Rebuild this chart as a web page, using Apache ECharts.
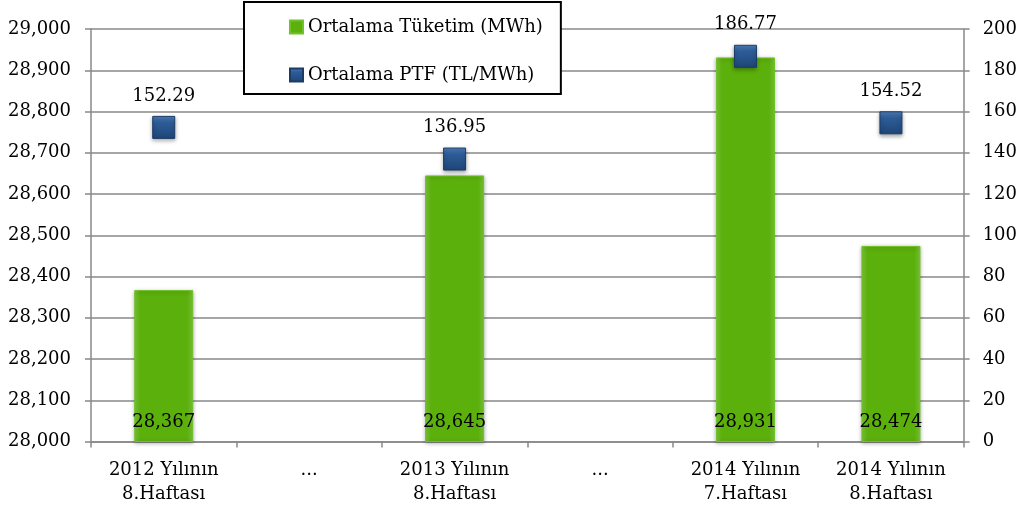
<!DOCTYPE html>
<html><head><meta charset="utf-8">
<script src="https://cdn.jsdelivr.net/npm/echarts@6/dist/echarts.min.js"></script>
<style>html,body{margin:0;padding:0;background:#fff}#c{width:1020px;height:511px}</style>
</head><body><div id="c"></div>
<script>
const categories = ['2012 Yılının\n8.Haftası', '...', '2013 Yılının\n8.Haftası', '...', '2014 Yılının\n7.Haftası', '2014 Yılının\n8.Haftası'];
const consumption = [28367, '-', 28645, '-', 28931, 28474];
const ptf = [152.29, '-', 136.95, '-', 186.77, 154.52];
const leftTicks = {min: 28000, max: 29000, interval: 100};
const rightTicks = {min: 0, max: 200, interval: 20};

const FONT = 'DejaVu Serif';
const FS = 18;
const chart = echarts.init(document.getElementById('c'));
const fmt = v => v.toLocaleString('en-US');
chart.setOption({
  animation: false,
  textStyle: {fontFamily: FONT},
  grid: {left: 91, right: 54, top: 29, bottom: 69.5},
  legend: {
    orient: 'vertical', left: 244, top: 2,
    padding: [16, 18, 10, 45],
    itemGap: 30, itemWidth: 13, itemHeight: 13,
    backgroundColor: '#fff', borderColor: '#000', borderWidth: 2,
    textStyle: {fontFamily: FONT, fontSize: FS, color: '#000'},
    data: [{name: 'Ortalama Tüketim (MWh)', icon: 'rect'}, {name: 'Ortalama PTF (TL/MWh)', icon: 'rect'}]
  },
  xAxis: {
    type: 'category', data: categories, boundaryGap: true,
    axisLine: {lineStyle: {color: '#888', width: 1.5}},
    axisTick: {show: true, length: 6, lineStyle: {color: '#888', width: 1.5}},
    axisLabel: {color: '#000', fontFamily: FONT, fontSize: FS, margin: 17, lineHeight: 24, interval: 0}
  },
  yAxis: [{
    type: 'value', min: leftTicks.min, max: leftTicks.max, interval: leftTicks.interval,
    axisLine: {show: true, lineStyle: {color: '#888', width: 1.5}},
    axisTick: {show: true, length: 6, lineStyle: {color: '#888', width: 1.5}},
    splitLine: {lineStyle: {color: '#888', width: 1.5}},
    axisLabel: {color: '#000', fontFamily: FONT, fontSize: FS, margin: 20, formatter: v => fmt(v)}
  }, {
    type: 'value', min: rightTicks.min, max: rightTicks.max, interval: rightTicks.interval,
    axisLine: {show: true, lineStyle: {color: '#888', width: 1.5}},
    axisTick: {show: true, length: 6, lineStyle: {color: '#888', width: 1.5}},
    splitLine: {show: false},
    axisLabel: {color: '#000', fontFamily: FONT, fontSize: FS, margin: 19}
  }],
  series: [{
    name: 'Ortalama Tüketim (MWh)', type: 'bar', yAxisIndex: 0,
    data: consumption, barWidth: 59,
    itemStyle: {
      color: new echarts.graphic.LinearGradient(0, 0, 1, 0, [
        {offset: 0, color: '#7cc83a'}, {offset: 0.1, color: '#5cb00c'},
        {offset: 0.9, color: '#5cb00c'}, {offset: 1, color: '#7cc83a'}
      ]),
      borderColor: '#6fc22a', borderWidth: 1,
      shadowColor: 'rgba(0,0,0,0.3)', shadowBlur: 4, shadowOffsetY: 1
    },
    label: {show: true, position: 'insideBottom', distance: 11, color: '#000', fontFamily: FONT, fontSize: FS,
      formatter: p => fmt(p.value)}
  }, {
    name: 'Ortalama PTF (TL/MWh)', type: 'scatter', yAxisIndex: 1,
    data: ptf, symbol: 'rect', symbolSize: 22,
    itemStyle: {
      opacity: 1,
      color: new echarts.graphic.LinearGradient(0, 0, 0, 1, [
        {offset: 0, color: '#4f80bd'}, {offset: 0.3, color: '#2d5c98'}, {offset: 1, color: '#1e4677'}
      ]),
      borderColor: '#1c3c66', borderWidth: 1,
      shadowColor: 'rgba(0,0,0,0.35)', shadowBlur: 4, shadowOffsetY: 2
    },
    label: {show: true, position: 'top', distance: 11, color: '#000', fontFamily: FONT, fontSize: FS,
      formatter: p => p.value.toFixed(2)}
  }]
});
</script></body></html>
